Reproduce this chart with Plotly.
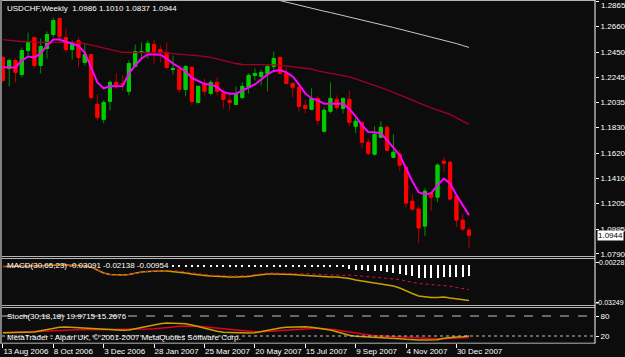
import pandas as pd
import plotly.graph_objects as go

# ---------------- data ----------------
dates = pd.date_range("2006-08-13", periods=75, freq="7D")

open_ = [1.2406, 1.2315, 1.2381, 1.2266, 1.2463, 1.2570, 1.2340, 1.2479, 1.2594, 1.2726,
         1.2570, 1.2471, 1.2545, 1.2365, 1.2430, 1.2020, 1.1897, 1.2045, 1.2201, 1.2192,
         1.2127, 1.2332, 1.2447, 1.2455, 1.2512, 1.2471, 1.2447, 1.2307, 1.2307, 1.2143,
         1.2324, 1.2036, 1.2192, 1.2110, 1.2201, 1.2110, 1.2053, 1.2020, 1.2077, 1.2160,
         1.2258, 1.2250, 1.2274, 1.2332, 1.2406, 1.2274, 1.2192, 1.2160, 1.2012, 1.1979,
         1.2069, 1.1799, 1.1963, 1.2061, 1.1987, 1.2061, 1.1840, 1.1872, 1.1708, 1.1610,
         1.1749, 1.1831, 1.1585, 1.1610, 1.1503, 1.1224, 1.1159, 1.1019, 1.1290, 1.1257,
         1.1552, 1.1544, 1.1265, 1.1068, 1.0986]
high = [1.2422, 1.2397, 1.2397, 1.2488, 1.2611, 1.2570, 1.2561, 1.2619, 1.2734, 1.2734,
        1.2643, 1.2545, 1.2570, 1.2520, 1.2438, 1.2102, 1.2053, 1.2217, 1.2274, 1.2258,
        1.2381, 1.2512, 1.2529, 1.2545, 1.2553, 1.2504, 1.2529, 1.2422, 1.2324, 1.2340,
        1.2332, 1.2176, 1.2233, 1.2217, 1.2242, 1.2151, 1.2118, 1.2168, 1.2201, 1.2274,
        1.2315, 1.2307, 1.2348, 1.2455, 1.2414, 1.2324, 1.2201, 1.2168, 1.2053, 1.2151,
        1.2086, 1.1995, 1.2201, 1.2094, 1.2077, 1.2135, 1.1913, 1.1881, 1.1741, 1.1840,
        1.1881, 1.1848, 1.1774, 1.1643, 1.1511, 1.1282, 1.1183, 1.1331, 1.1298, 1.1536,
        1.1585, 1.1552, 1.1274, 1.1118, 1.1010]
low = [1.2201, 1.2168, 1.2201, 1.2242, 1.2422, 1.2315, 1.2274, 1.2397, 1.2570, 1.2529,
       1.2447, 1.2389, 1.2324, 1.2340, 1.2061, 1.1889, 1.1864, 1.1971, 1.2151, 1.2135,
       1.2094, 1.2324, 1.2397, 1.2397, 1.2356, 1.2365, 1.2307, 1.2266, 1.2118, 1.2086,
       1.2012, 1.2028, 1.2094, 1.2094, 1.2094, 1.1987, 1.1971, 1.2012, 1.2061, 1.2110,
       1.2217, 1.2176, 1.2127, 1.2299, 1.2266, 1.2184, 1.2077, 1.1963, 1.1946, 1.1971,
       1.1848, 1.1790, 1.1946, 1.1971, 1.1946, 1.1840, 1.1782, 1.1659, 1.1602, 1.1602,
       1.1741, 1.1634, 1.1577, 1.1470, 1.1175, 1.1142, 1.0880, 1.0937, 1.1142, 1.1216,
       1.1462, 1.1233, 1.1011, 1.0978, 1.0837]
close = [1.2217, 1.2381, 1.2283, 1.2463, 1.2537, 1.2340, 1.2496, 1.2594, 1.2709, 1.2578,
         1.2471, 1.2520, 1.2406, 1.2430, 1.2077, 1.1913, 1.2036, 1.2201, 1.2184, 1.2184,
         1.2356, 1.2455, 1.2455, 1.2520, 1.2455, 1.2447, 1.2324, 1.2315, 1.2143, 1.2332,
         1.2045, 1.2168, 1.2127, 1.2201, 1.2127, 1.2061, 1.2036, 1.2102, 1.2168, 1.2258,
         1.2274, 1.2283, 1.2332, 1.2397, 1.2274, 1.2192, 1.2160, 1.2004, 1.1987, 1.2069,
         1.1889, 1.1971, 1.2069, 1.1995, 1.2069, 1.1872, 1.1881, 1.1708, 1.1618, 1.1774,
         1.1831, 1.1643, 1.1626, 1.1520, 1.1208, 1.1159, 1.1003, 1.1306, 1.1257, 1.1520,
         1.1536, 1.1241, 1.1068, 1.0995, 1.0944]

ma_fast = [1.2326, 1.2324, 1.2324, 1.2381, 1.2414, 1.2406, 1.2438, 1.2504, 1.2553, 1.2553,
           1.2533, 1.2520, 1.2500, 1.2447, 1.2324, 1.2201, 1.2151, 1.2170, 1.2168, 1.2170,
           1.2272, 1.2340, 1.2397, 1.2430, 1.2430, 1.2428, 1.2397, 1.2356, 1.2324, 1.2291,
           1.2237, 1.2209, 1.2188, 1.2184, 1.2162, 1.2121, 1.2108, 1.2108, 1.2135, 1.2160,
           1.2184, 1.2225, 1.2266, 1.2295, 1.2303, 1.2283, 1.2250, 1.2184, 1.2110, 1.2069,
           1.2053, 1.2026, 1.2026, 1.2026, 1.2026, 1.1983, 1.1922, 1.1848, 1.1793, 1.1790,
           1.1782, 1.1725, 1.1665, 1.1602, 1.1495, 1.1388, 1.1298, 1.1279, 1.1290, 1.1356,
           1.1409, 1.1370, 1.1274, 1.1192, 1.1109]
ma_mid = [1.2553, 1.2545, 1.2541, 1.2537, 1.2533, 1.2531, 1.2529, 1.2529, 1.2529, 1.2529,
          1.2529, 1.2529, 1.2529, 1.2520, 1.2508, 1.2496, 1.2484, 1.2467, 1.2455, 1.2447,
          1.2447, 1.2447, 1.2447, 1.2447, 1.2447, 1.2447, 1.2443, 1.2438, 1.2434, 1.2430,
          1.2422, 1.2418, 1.2414, 1.2406, 1.2393, 1.2381, 1.2365, 1.2356, 1.2348, 1.2348,
          1.2348, 1.2348, 1.2348, 1.2344, 1.2340, 1.2334, 1.2334, 1.2328, 1.2319, 1.2311,
          1.2295, 1.2283, 1.2274, 1.2266, 1.2258, 1.2246, 1.2229, 1.2209, 1.2192, 1.2176,
          1.2160, 1.2139, 1.2118, 1.2098, 1.2073, 1.2053, 1.2036, 1.2012, 1.1991, 1.1975,
          1.1959, 1.1938, 1.1909, 1.1881, 1.1856]
ma_slow = [1.2886, 1.2873, 1.2861, 1.2847, 1.2835, 1.2824, 1.2812, 1.2799, 1.2786, 1.2775,
           1.2762, 1.2750, 1.2738, 1.2726, 1.2713, 1.2701, 1.2689, 1.2676, 1.2664, 1.2652,
           1.2639, 1.2627, 1.2615, 1.2602, 1.2589, 1.2576, 1.2563, 1.2549, 1.2535, 1.2520,
           1.2504, 1.2488]  # last 32 weeks

macd_main = [-0.00114, -0.00114, -0.00114, -0.00096, -0.00070, -0.00070, -0.00052, -0.00026, 0.00018, 0.00018,
             0.00018, 0.00018, -0.00026, -0.00070, -0.00157, -0.00420, -0.00683, -0.00814, -0.00858, -0.00858,
             -0.00814, -0.00683, -0.00595, -0.00552, -0.00508, -0.00508, -0.00508, -0.00552, -0.00596, -0.00683,
             -0.00771, -0.00859, -0.00902, -0.00946, -0.00990, -0.01034, -0.01034, -0.01034, -0.01034, -0.00990,
             -0.00902, -0.00815, -0.00771, -0.00771, -0.00771, -0.00771, -0.00815, -0.00859, -0.00902, -0.00946,
             -0.00989, -0.01033, -0.01033, -0.01033, -0.01077, -0.01165, -0.01296, -0.01384, -0.01472, -0.01559,
             -0.01603, -0.01690, -0.01822, -0.01997, -0.02260, -0.02479, -0.02698, -0.02786, -0.02829, -0.02829,
             -0.02785, -0.02873, -0.02960, -0.03048, -0.03091]
macd_signal = [-0.00114, -0.00114, -0.00114, -0.00096, -0.00070, -0.00070, -0.00052, -0.00026, 0.00018, 0.00018,
               0.00018, 0.00018, -0.00026, -0.00070, -0.00157, -0.00420, -0.00683, -0.00814, -0.00858, -0.00858,
               -0.00814, -0.00683, -0.00595, -0.00552, -0.00508, -0.00508, -0.00508, -0.00464, -0.00508, -0.00595,
               -0.00683, -0.00771, -0.00814, -0.00858, -0.00902, -0.00946, -0.00946, -0.00946, -0.00946, -0.00902,
               -0.00814, -0.00727, -0.00683, -0.00683, -0.00683, -0.00683, -0.00727, -0.00771, -0.00727, -0.00771,
               -0.00814, -0.00858, -0.00858, -0.00858, -0.00902, -0.00858, -0.00902, -0.00946, -0.00990, -0.01077,
               -0.01077, -0.01121, -0.01165, -0.01252, -0.01384, -0.01515, -0.01603, -0.01647, -0.01690, -0.01734,
               -0.01734, -0.01839, -0.01944, -0.02058, -0.02138]
macd_hist = [0, 0, 0, 0, 0, 0, 0, 0, 0, 0,
             0, 0, 0, 0, 0, 0, 0, 0, 0, 0,
             0, 0, 0, 0, 0, 0, 0, -0.00088, -0.00088, -0.00088,
             -0.00088, -0.00088, -0.00088, -0.00088, -0.00088, -0.00088, -0.00088, -0.00088, -0.00088, -0.00088,
             -0.00088, -0.00088, -0.00088, -0.00088, -0.00088, -0.00088, -0.00088, -0.00088, -0.00175, -0.00175,
             -0.00175, -0.00175, -0.00175, -0.00175, -0.00175, -0.00307, -0.00394, -0.00438, -0.00482, -0.00482,
             -0.00526, -0.00569, -0.00657, -0.00745, -0.00876, -0.00964, -0.01095, -0.01139, -0.01139, -0.01095,
             -0.01051, -0.01034, -0.01016, -0.00990, -0.00954]

stoch_main = [30, 30, 30, 30, 30, 32, 36, 40, 44, 46,
              47, 46, 44, 42, 41, 40, 39, 38, 38, 37,
              38, 42, 46, 50, 54, 57, 59, 59, 58, 57,
              53, 48, 43, 38, 34, 31, 30, 29, 29, 29,
              30, 34, 38, 41, 44, 46, 47, 48, 48, 46,
              44, 41, 38, 33, 27, 22, 19, 18, 18, 18,
              17, 16, 15, 12, 10, 8, 8, 8, 8, 9,
              13, 16, 17, 18, 19.9715]
stoch_signal = [30, 30, 31, 32, 33, 34, 35, 36, 37, 38,
                38.5, 39, 39, 39, 39, 39, 39, 39, 39, 39,
                39, 39, 40, 41, 42, 43, 45, 47, 49, 50,
                50, 49, 47, 45, 43, 41, 39, 37, 35, 34,
                33, 33, 34, 35, 37, 39, 40, 41, 42, 43,
                43, 42, 41, 38, 35, 32, 29, 26, 23, 21,
                20, 19, 18, 16, 15, 14, 13, 12, 12, 12,
                12, 13, 13.5, 14, 15.2676]

price_ticks = [1.2865, 1.2660, 1.2450, 1.2245, 1.2035, 1.1830, 1.1620, 1.1410, 1.1205, 1.0995, 1.0790]
date_tick_idx = [0, 8, 16, 24, 32, 40, 48, 56, 64, 72]
date_tick_text = ["13 Aug 2006", "8 Oct 2006", "3 Dec 2006", "28 Jan 2007", "25 Mar 2007",
                  "20 May 2007", "15 Jul 2007", "9 Sep 2007", "4 Nov 2007", "30 Dec 2007"]
macd_ticks = [0.00228, -0.03249]
macd_tick_text = ["0.00228", "-0.03249"]
stoch_levels = [80, 20]

# ---------------- styling ----------------
W, H = 625, 357
BG = "#0c0c0c"
FG = "#ffffff"
GREEN = "#00cc00"
RED = "#ff0000"
GREEN_WICK = "#009000"
RED_WICK = "#b00000"
GOLD = "#c8a000"
FONT = "Liberation Sans"


def pyp(p):
    return 1 - p / H


def pxp(p):
    return p / W


body_top = [max(a, b) for a, b in zip(open_, close)]
body_bot = [min(a, b) for a, b in zip(open_, close)]

fig = go.Figure()
# full candles (wicks in darker shade)
fig.add_trace(go.Candlestick(
    x=dates, open=open_, high=high, low=low, close=close,
    increasing=dict(line=dict(color=GREEN_WICK, width=1), fillcolor=GREEN),
    decreasing=dict(line=dict(color=RED_WICK, width=1), fillcolor=RED),
    whiskerwidth=0, hoverinfo="skip", xaxis="x", yaxis="y"))
# bright bodies on top
fig.add_trace(go.Candlestick(
    x=dates, open=open_, high=body_top, low=body_bot, close=close,
    increasing=dict(line=dict(color=GREEN, width=1), fillcolor=GREEN),
    decreasing=dict(line=dict(color=RED, width=1), fillcolor=RED),
    whiskerwidth=0, hoverinfo="skip", xaxis="x", yaxis="y"))
fig.add_trace(go.Scatter(x=dates[-len(ma_slow):], y=ma_slow, mode="lines",
                         line=dict(color="#c8c8c8", width=1), xaxis="x", yaxis="y"))
fig.add_trace(go.Scatter(x=dates, y=ma_mid, mode="lines",
                         line=dict(color="#a00028", width=1.3), xaxis="x", yaxis="y"))
fig.add_trace(go.Scatter(x=dates, y=ma_fast, mode="lines",
                         line=dict(color="#ff00ff", width=2), xaxis="x", yaxis="y"))

fig.add_trace(go.Bar(x=dates, y=macd_hist, width=1.1 * 86400000,
                     marker=dict(color="#ffffff", line=dict(width=0)), xaxis="x", yaxis="y2"))
fig.add_trace(go.Scatter(x=dates, y=macd_main, mode="lines",
                         line=dict(color=GOLD, width=1.5), xaxis="x", yaxis="y2"))
fig.add_trace(go.Scatter(x=dates, y=macd_signal, mode="lines",
                         line=dict(color="#e0103c", width=1, dash="dot"), xaxis="x", yaxis="y2"))

fig.add_trace(go.Scatter(x=dates, y=stoch_signal, mode="lines",
                         line=dict(color="#e00020", width=1.5), xaxis="x", yaxis="y3"))
fig.add_trace(go.Scatter(x=dates, y=stoch_main, mode="lines",
                         line=dict(color=GOLD, width=1.5), xaxis="x", yaxis="y3"))

yax = dict(side="right", anchor="x", showgrid=False, zeroline=False, showline=False,
           ticks="outside", ticklen=3, tickcolor=FG, tickwidth=1, automargin=False,
           tickfont=dict(family=FONT, size=8, color=FG), fixedrange=True)

price_tick_text = [""] + [f"{v:.4f}" for v in price_ticks[1:]]  # top label drawn as annotation

fig.update_layout(
    width=W, height=H, margin=dict(l=0, r=0, t=0, b=0, autoexpand=False),
    paper_bgcolor=BG, plot_bgcolor=BG, showlegend=False, bargap=0,
    font=dict(family=FONT, size=8, color=FG),
    xaxis=dict(domain=[pxp(2), pxp(595)], range=["2006-08-12", "2008-06-01"], anchor="y3",
               rangeslider=dict(visible=False), showgrid=False, zeroline=False, showline=False,
               tickvals=[dates[i] for i in date_tick_idx], ticktext=date_tick_text,
               ticks="outside", ticklen=4, tickcolor=FG, ticklabelposition="outside right",
               tickangle=0, automargin=False,
               tickfont=dict(family=FONT, size=8, color=FG)),
    yaxis=dict(domain=[pyp(256.5), pyp(1)], range=[1.0769, 1.2870],
               tickvals=price_ticks, ticktext=price_tick_text, **yax),
    yaxis2=dict(domain=[pyp(305.5), pyp(259)], range=[-0.03530, 0.00543],
                tickvals=macd_ticks, showticklabels=False, **yax),
    yaxis3=dict(domain=[pyp(343), pyp(308)], range=[-1, 104],
                tickvals=stoch_levels, ticktext=["80", "20"], **yax),
)

LINE = "#b4b4b4"
shapes = []
# panel borders
for yy in [0.5, 256.5, 258.5, 305.5, 307.5, 343.2]:
    shapes.append(dict(type="line", xref="paper", yref="paper", x0=0, x1=pxp(595),
                       y0=pyp(yy), y1=pyp(yy), line=dict(color=LINE, width=1)))
shapes.append(dict(type="line", xref="paper", yref="paper", x0=pxp(1), x1=pxp(1),
                   y0=pyp(0), y1=pyp(343), line=dict(color="#808080", width=2)))
shapes.append(dict(type="line", xref="paper", yref="paper", x0=pxp(595), x1=pxp(595),
                   y0=pyp(0), y1=pyp(343.5), line=dict(color=FG, width=1)))
# stochastic levels
shapes.append(dict(type="line", xref="paper", yref="y3", x0=pxp(2), x1=pxp(595),
                   y0=80, y1=80, line=dict(color="#c0c0c0", width=1, dash="dash")))
shapes.append(dict(type="line", xref="paper", yref="y3", x0=pxp(2), x1=pxp(595),
                   y0=20, y1=20, line=dict(color="#c0c0c0", width=1, dash="dot")))
fig.update_layout(shapes=shapes)

ann = [
    dict(text="USDCHF,Weekly  1.0986 1.1010 1.0837 1.0944", x=pxp(5), y=pyp(8)),
    dict(text="MACD(30,65,23) -0.03091 -0.02138 -0.00954", x=pxp(5), y=pyp(265)),
    dict(text="Stoch(30,18,18) 19.9715 15.2676", x=pxp(5), y=pyp(316.5)),
    dict(text="MetaTrader - Alpari UK, \u00a9 2001-2007 MetaQuotes Software Corp.", x=pxp(5), y=pyp(337.5)),
]
annotations = []
for a in ann:
    annotations.append(dict(text=a["text"], x=a["x"], y=a["y"], xref="paper", yref="paper",
                            xanchor="left", yanchor="middle", showarrow=False,
                            font=dict(family=FONT, size=8, color=FG)))
# top price label, kept inside the page
annotations.append(dict(text=f"{price_ticks[0]:.4f}", x=pxp(600), y=1.0, xref="paper", yref="paper",
                        xanchor="left", yanchor="top", showarrow=False, borderpad=0,
                        font=dict(family=FONT, size=8, color=FG)))
# MACD scale labels (kept inside the page)
for v, t in zip(macd_ticks, macd_tick_text):
    annotations.append(dict(text=t, x=1.0, y=v, xref="paper", yref="y2", xanchor="right",
                            yanchor="middle", showarrow=False, borderpad=0,
                            font=dict(family=FONT, size=7, color=FG)))
annotations.append(dict(text="1.0944", x=pxp(597), y=close[-1], xref="paper", yref="y",
                        xanchor="left", yanchor="middle", showarrow=False, bgcolor="#ffffff",
                        borderpad=0, font=dict(family=FONT, size=8, color="#000000")))
fig.update_layout(annotations=annotations)

fig.write_html("out.html")
